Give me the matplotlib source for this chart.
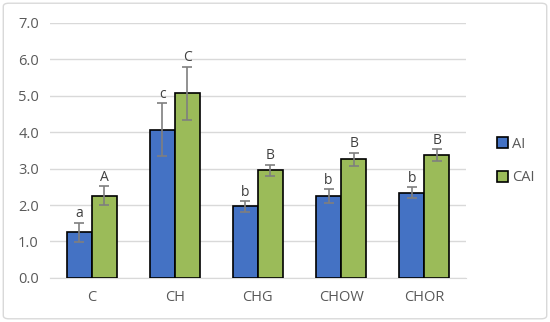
import matplotlib
matplotlib.use("Agg")
import matplotlib.pyplot as plt
from matplotlib.patches import FancyBboxPatch
import numpy as np

categories = ["C", "CH", "CHG", "CHOW", "CHOR"]
ai_values = [1.25, 4.07, 1.96, 2.25, 2.34]
ai_errors = [0.27, 0.73, 0.15, 0.20, 0.15]
cai_values = [2.26, 5.07, 2.96, 3.25, 3.37]
cai_errors = [0.26, 0.73, 0.15, 0.19, 0.16]
ai_letters = ["a", "c", "b", "b", "b"]
cai_letters = ["A", "C", "B", "B", "B"]
series_names = ["AI", "CAI"]
yticks = [0, 1, 2, 3, 4, 5, 6, 7]

plt.rcParams['font.family'] = ['Open Sans', 'DejaVu Sans']

fig = plt.figure(figsize=(5.5, 3.22), dpi=100)
ax = fig.add_axes([0.0909, 0.137, 0.847 - 0.0909, 0.929 - 0.137])

x = np.arange(len(categories))
w = 0.3
blue = "#4472C4"
green = "#9BBB59"
errc = "#7F7F7F"
txtc = "#595959"

b1 = ax.bar(x - w/2, ai_values, w, color=blue, edgecolor="black", linewidth=1.2,
            label=series_names[0], zorder=3)
b2 = ax.bar(x + w/2, cai_values, w, color=green, edgecolor="black", linewidth=1.2,
            label=series_names[1], zorder=3)
ax.errorbar(x - w/2, ai_values, yerr=ai_errors, fmt="none", ecolor=errc,
            elinewidth=1.2, capsize=3.5, capthick=1.2, zorder=4)
ax.errorbar(x + w/2, cai_values, yerr=cai_errors, fmt="none", ecolor=errc,
            elinewidth=1.2, capsize=3.5, capthick=1.2, zorder=4)

for xi, v, e, t in zip(x - w/2, ai_values, ai_errors, ai_letters):
    ax.text(xi, v + e + 0.03, t, ha="center", va="bottom", fontsize=10, color="#404040", zorder=5)
for xi, v, e, t in zip(x + w/2, cai_values, cai_errors, cai_letters):
    ax.text(xi, v + e + 0.03, t, ha="center", va="bottom", fontsize=10, color="#404040", zorder=5)

ax.set_xlim(-0.5, len(categories) - 0.5)
ax.set_ylim(0, 7)
ax.set_yticks(yticks)
ax.set_yticklabels([f"{t:.1f}" for t in yticks])
ax.set_xticks(x)
ax.set_xticklabels(categories)
ax.tick_params(axis="both", length=0, labelsize=10.5, colors=txtc)
ax.tick_params(axis="x", pad=9)
ax.tick_params(axis="y", pad=8)
ax.grid(axis="y", color="#D9D9D9", linewidth=1, zorder=0)
for s in ["top", "right", "left"]:
    ax.spines[s].set_visible(False)
ax.spines["bottom"].set_color("#D9D9D9")
ax.set_axisbelow(True)

leg = fig.legend(handles=[b1, b2], labels=series_names, loc="center left",
                 bbox_to_anchor=(0.88, 0.5), frameon=False, fontsize=10.5,
                 handlelength=0.75, handleheight=0.75, labelspacing=1.3,
                 handletextpad=0.3, labelcolor=txtc)

border = FancyBboxPatch((0.006, 0.01), 0.988, 0.98, boxstyle="round,pad=0,rounding_size=0.01",
                        transform=fig.transFigure, fill=False, edgecolor="#D9D9D9", linewidth=1)
fig.patches.append(border)

fig.savefig("out.png", dpi=100)
